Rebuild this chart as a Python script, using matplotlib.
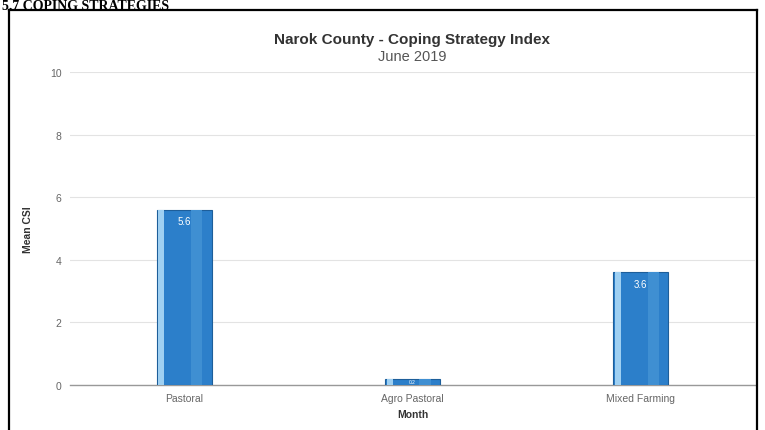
import matplotlib.pyplot as plt
from matplotlib.lines import Line2D

categories = ['Pastoral', 'Agro Pastoral', 'Mixed Farming']
mean_csi = [5.6, 0.2, 3.6]
value_labels = ['5.6', '0.2', '3.6']
y_ticks = [0, 2, 4, 6, 8, 10]

plt.rcParams['font.family'] = ['Liberation Sans', 'DejaVu Sans']

fig = plt.figure(figsize=(7.65, 4.31), dpi=100)
ax = fig.add_axes([0.0915, 0.1044, 0.8955, 0.7262])

x = range(len(categories))
bars = ax.bar(x, mean_csi, width=0.24, color='#2c7fca', edgecolor='#1d5e9a', linewidth=0.8, zorder=3)
# lighter strip on the left side of each bar, and a soft highlight on the right
ax.bar([i - 0.1 for i in x], mean_csi, width=0.025, color='#9fd0f2', linewidth=0, zorder=4)
ax.bar([i + 0.055 for i in x], mean_csi, width=0.05, color='#3f8fd2', linewidth=0, zorder=4)

for b, lab in zip(bars, value_labels):
    h = b.get_height()
    if h > 1:
        ax.text(b.get_x() + b.get_width() / 2, h - 0.2, lab,
                ha='center', va='top', color='white', fontsize=7, zorder=5)
    else:
        ax.text(b.get_x() + b.get_width() / 2, h / 2, lab,
                ha='center', va='center', color='white', fontsize=3.5, zorder=5)

ax.set_xlim(-0.5, 2.5)
ax.set_ylim(0, 10)
ax.set_yticks(y_ticks)
ax.set_xticks(list(x))
ax.set_xticklabels(categories)
ax.tick_params(axis='both', length=0, labelsize=7.5, colors='#666666', pad=6)
ax.grid(axis='y', color='#e3e3e3', linewidth=0.8, zorder=0)
for s in ['top', 'right', 'left']:
    ax.spines[s].set_visible(False)
ax.spines['bottom'].set_color('#999999')
ax.spines['bottom'].set_linewidth(1)

ax.set_ylabel('Mean CSI', fontsize=7.5, fontweight='bold', color='#333333', labelpad=12)
ax.set_xlabel('Month', fontsize=7.5, fontweight='bold', color='#333333', labelpad=4)

fig.text(0.539, 1 - 40 / 431, 'Narok County - Coping Strategy Index', ha='center', va='center',
         fontsize=11, fontweight='bold', color='#333333')
fig.text(0.539, 1 - 57 / 431, 'June 2019', ha='center', va='center', fontsize=10.5, color='#555555')

# section heading and frame around the chart
fig.text(0.003, 1 - 10 / 431, '5.7 COPING STRATEGIES', ha='left', va='baseline',
         fontsize=10, fontweight='bold', family=['Liberation Serif', 'DejaVu Serif'], color='black')
fig.add_artist(Line2D([9 / 765, 9 / 765], [0, 1 - 11 / 431], color='black', linewidth=1.6))
fig.add_artist(Line2D([757 / 765, 757 / 765], [0, 1 - 11 / 431], color='black', linewidth=1.6))
fig.add_artist(Line2D([9 / 765, 757 / 765], [1 - 11 / 431, 1 - 11 / 431], color='black', linewidth=1.6))

fig.savefig('out.png', dpi=100)
